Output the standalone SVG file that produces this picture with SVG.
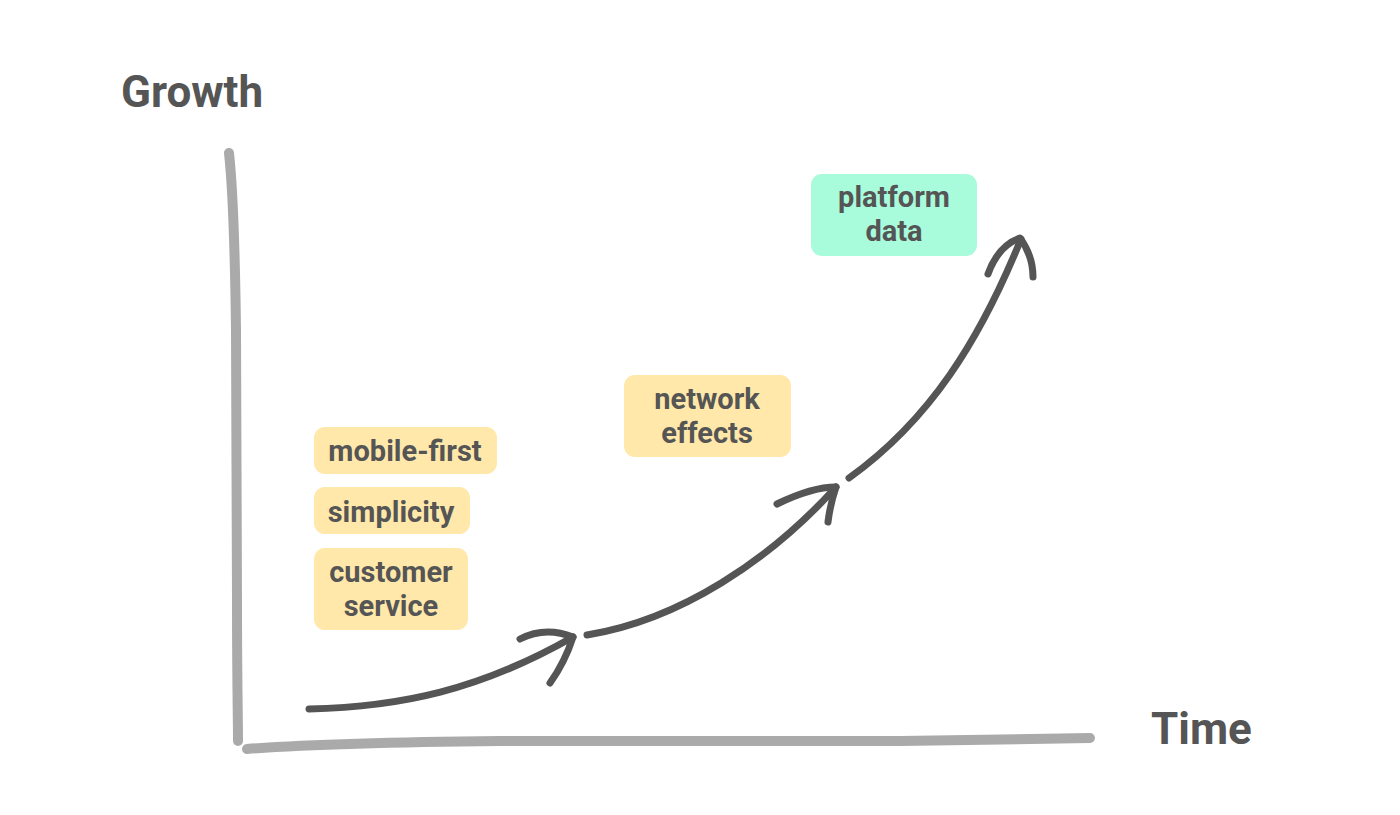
<svg xmlns="http://www.w3.org/2000/svg" width="1400" height="815" viewBox="0 0 1400 815">
<style>
.lbl{font-family:Roboto,"Liberation Sans",sans-serif;font-weight:bold;font-size:29px;fill:#555;text-anchor:middle}
.title{font-family:Roboto,"Liberation Sans",sans-serif;font-weight:bold;font-size:44px;fill:#555}
.y{fill:#FFE8A9}
.g{fill:#A8FBDB}
.axis{fill:none;stroke:#aaa;stroke-width:10;stroke-linecap:round}
.crv{fill:none;stroke:#555;stroke-width:7;stroke-linecap:round;stroke-linejoin:round}
</style>
<rect width="1400" height="815" fill="#fff"/>
<text class="title" x="121" y="107">Growth</text>
<text class="title" x="1151" y="744">Time</text>
<g id="axes">
<path class="axis" d="M229,153 C233,190 235,250 236,330 L237,600 C237,680 238,720 238,741"/>
<path class="axis" d="M247,749 C300,745 400,742 500,741 L900,741 C1000,740 1060,739 1090,738"/>
</g>
<g id="connectors">
<path class="crv" d="M309,709 C400,707 480,690 573,637"/>
<path class="crv" d="M520,639 Q545,626 573,637 Q565,662 550,683"/>
<path class="crv" d="M587,635 C680,620 770,560 836,487"/>
<path class="crv" d="M777,504 Q812,487 836,487 Q830,505 828,522"/>
<path class="crv" d="M849,478 C930,420 980,340 1021,239"/>
<path class="crv" d="M988,274 Q998,246 1020,238 Q1033,256 1033,277"/>
</g>
<g id="mobile-first"><rect class="y" x="314" y="427" width="183" height="47" rx="11"/><text class="lbl" x="405" y="461">mobile-first</text></g>
<g id="simplicity"><rect class="y" x="314" y="487" width="156" height="47" rx="11"/><text class="lbl" x="391" y="522">simplicity</text></g>
<g id="customer-service"><rect class="y" x="314" y="548" width="154" height="82" rx="11"/><text class="lbl" x="391" y="582">customer</text><text class="lbl" x="391" y="616">service</text></g>
<g id="network-effects"><rect class="y" x="624" y="375" width="167" height="82" rx="11"/><text class="lbl" x="707" y="409">network</text><text class="lbl" x="707" y="443">effects</text></g>
<g id="platform-data"><rect class="g" x="811" y="174" width="166" height="82" rx="11"/><text class="lbl" x="894" y="207">platform</text><text class="lbl" x="894" y="241">data</text></g>
</svg>
